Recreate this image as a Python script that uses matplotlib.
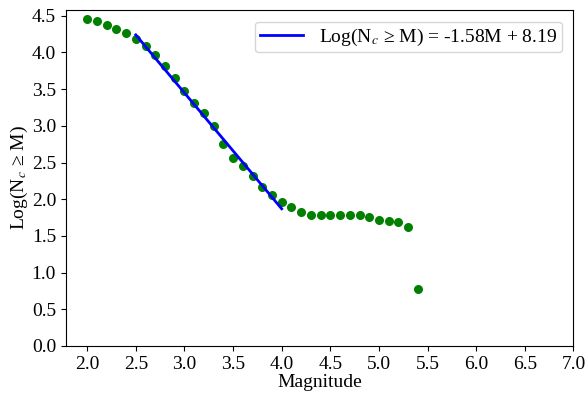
import matplotlib
matplotlib.use('Agg')
import matplotlib.pyplot as plt
import numpy as np

plt.rcParams['font.family'] = ['Liberation Serif', 'DejaVu Serif']
plt.rcParams['mathtext.fontset'] = 'stix'

# magnitude bins and cumulative log counts
mag = [2.0, 2.1, 2.2, 2.3, 2.4, 2.5, 2.6, 2.7, 2.8, 2.9,
       3.0, 3.1, 3.2, 3.3, 3.4, 3.5, 3.6, 3.7, 3.8, 3.9,
       4.0, 4.1, 4.2, 4.3, 4.4, 4.5, 4.6, 4.7, 4.8, 4.9,
       5.0, 5.1, 5.2, 5.3, 5.4]
log_n = [4.45, 4.43, 4.38, 4.32, 4.26, 4.19, 4.09, 3.96, 3.81, 3.65,
         3.47, 3.31, 3.17, 3.00, 2.75, 2.56, 2.45, 2.31, 2.17, 2.06,
         1.96, 1.89, 1.83, 1.79, 1.78, 1.78, 1.78, 1.78, 1.78, 1.76,
         1.72, 1.70, 1.69, 1.62, 0.77]

# Gutenberg-Richter fit
slope = -1.58
intercept = 8.19
fit_range = [2.5, 4.0]

fig = plt.figure(figsize=(5.87, 3.97), dpi=100)
ax = fig.add_axes([0.112, 0.1285, 0.865, 0.8465])

ax.scatter(mag, log_n, s=30, color='green', zorder=2)
mfit = np.array(fit_range)
ax.plot(mfit, slope * mfit + intercept, color='blue', lw=2,
        label='Log(N$_c$ ≥ M) = -1.58M + 8.19', zorder=3)

ax.set_xlim(1.78, 7.0)
ax.set_ylim(0, 4.58)
ax.set_xticks(np.arange(2.0, 7.01, 0.5))
ax.set_yticks(np.arange(0.0, 4.51, 0.5))
ax.tick_params(labelsize=14)
ax.set_xlabel('Magnitude', fontsize=14, labelpad=1)
ax.set_ylabel('Log(N$_c$ ≥ M)', fontsize=14, labelpad=1)
ax.legend(loc='upper right', fontsize=14, handlelength=2.2,
          borderpad=0.25, borderaxespad=0.6)

fig.savefig('out.png', dpi=100)
